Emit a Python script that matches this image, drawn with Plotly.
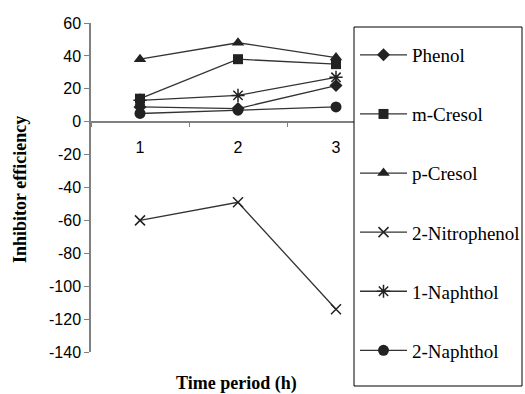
import plotly.graph_objects as go

periods = ["1", "2", "3"]
names = ["Phenol", "m-Cresol", "p-Cresol", "2-Nitrophenol", "1-Naphthol", "2-Naphthol"]
phenol = [9, 8, 22]
m_cresol = [14, 38, 35]
p_cresol = [38, 48, 39]
nitrophenol = [-60, -49, -114]
naphthol_1 = [13, 16, 27]
naphthol_2 = [5, 7, 9]
y_ticks = [60, 40, 20, 0, -20, -40, -60, -80, -100, -120, -140]

series = [phenol, m_cresol, p_cresol, nitrophenol, naphthol_1, naphthol_2]
symbols = ["diamond", "square", "triangle-up", "x-thin", "asterisk", "circle"]
sizes = [10, 10, 11, 10, 11, 11]

W, H = 525, 394
l, r, t, b = 91, 140, 23, 42
pw, ph = W - l - r, H - t - b


def px_x(v):
    return (v - l) / pw


def px_y(v):
    return (H - b - v) / ph


fig = go.Figure()
for nm, ys, sym, sz in zip(names, series, symbols, sizes):
    fig.add_trace(go.Scatter(
        x=periods, y=ys, name=nm, mode="lines+markers",
        legendgroup=nm,
        line=dict(color="#333333", width=1.3),
        marker=dict(symbol=sym, size=sz, color="#222222",
                    line=dict(color="#222222", width=1.5 if sym in ("x-thin", "asterisk") else 0)),
    ))

fig.update_layout(
    width=W, height=H,
    margin=dict(l=l, r=r, t=t, b=b, autoexpand=False),
    paper_bgcolor="white", plot_bgcolor="white",
    showlegend=True,
    legend=dict(
        x=px_x(355), y=px_y(36), xanchor="left", yanchor="top",
        borderwidth=0, bgcolor="rgba(0,0,0,0)",
        font=dict(family="Liberation Serif", size=19, color="black"),
        traceorder="grouped", tracegroupgap=31.4,
        itemwidth=47, maxheight=500,
    ),
    xaxis=dict(
        type="category", anchor="free", position=0.7,
        showline=True, linecolor="#808080", linewidth=1.5,
        ticks="outside", tickson="boundaries", ticklen=5, tickcolor="#808080",
        tickfont=dict(family="Liberation Sans", size=16, color="black"),
        ticklabelstandoff=11,
        showgrid=False, zeroline=False,
        range=[-0.5, 2.5],
    ),
    yaxis=dict(
        range=[-140, 60], tickvals=y_ticks, ticktext=[str(v) for v in y_ticks],
        showline=True, linecolor="#808080", linewidth=1.5,
        ticks="outside", ticklen=5, tickcolor="#808080",
        tickfont=dict(family="Liberation Sans", size=16, color="black"),
        showgrid=False, zeroline=False,
    ),
    shapes=[dict(type="rect", xref="paper", yref="paper",
                 x0=px_x(354), x1=px_x(522), y0=px_y(386), y1=px_y(27),
                 line=dict(color="black", width=1), fillcolor="white", layer="above")],
)
fig.add_annotation(text="<b>Time period (h)</b>", xref="paper", yref="paper",
                   x=px_x(236), y=px_y(383), xanchor="center", yanchor="middle",
                   showarrow=False,
                   font=dict(family="Liberation Serif", size=18, color="black"))
fig.add_annotation(text="<b>Inhibitor efficiency</b>", xref="paper", yref="paper",
                   x=px_x(20), y=px_y(190), xanchor="center", yanchor="middle",
                   textangle=-90, showarrow=False,
                   font=dict(family="Liberation Serif", size=18, color="black"))

fig.write_html("out.html")
